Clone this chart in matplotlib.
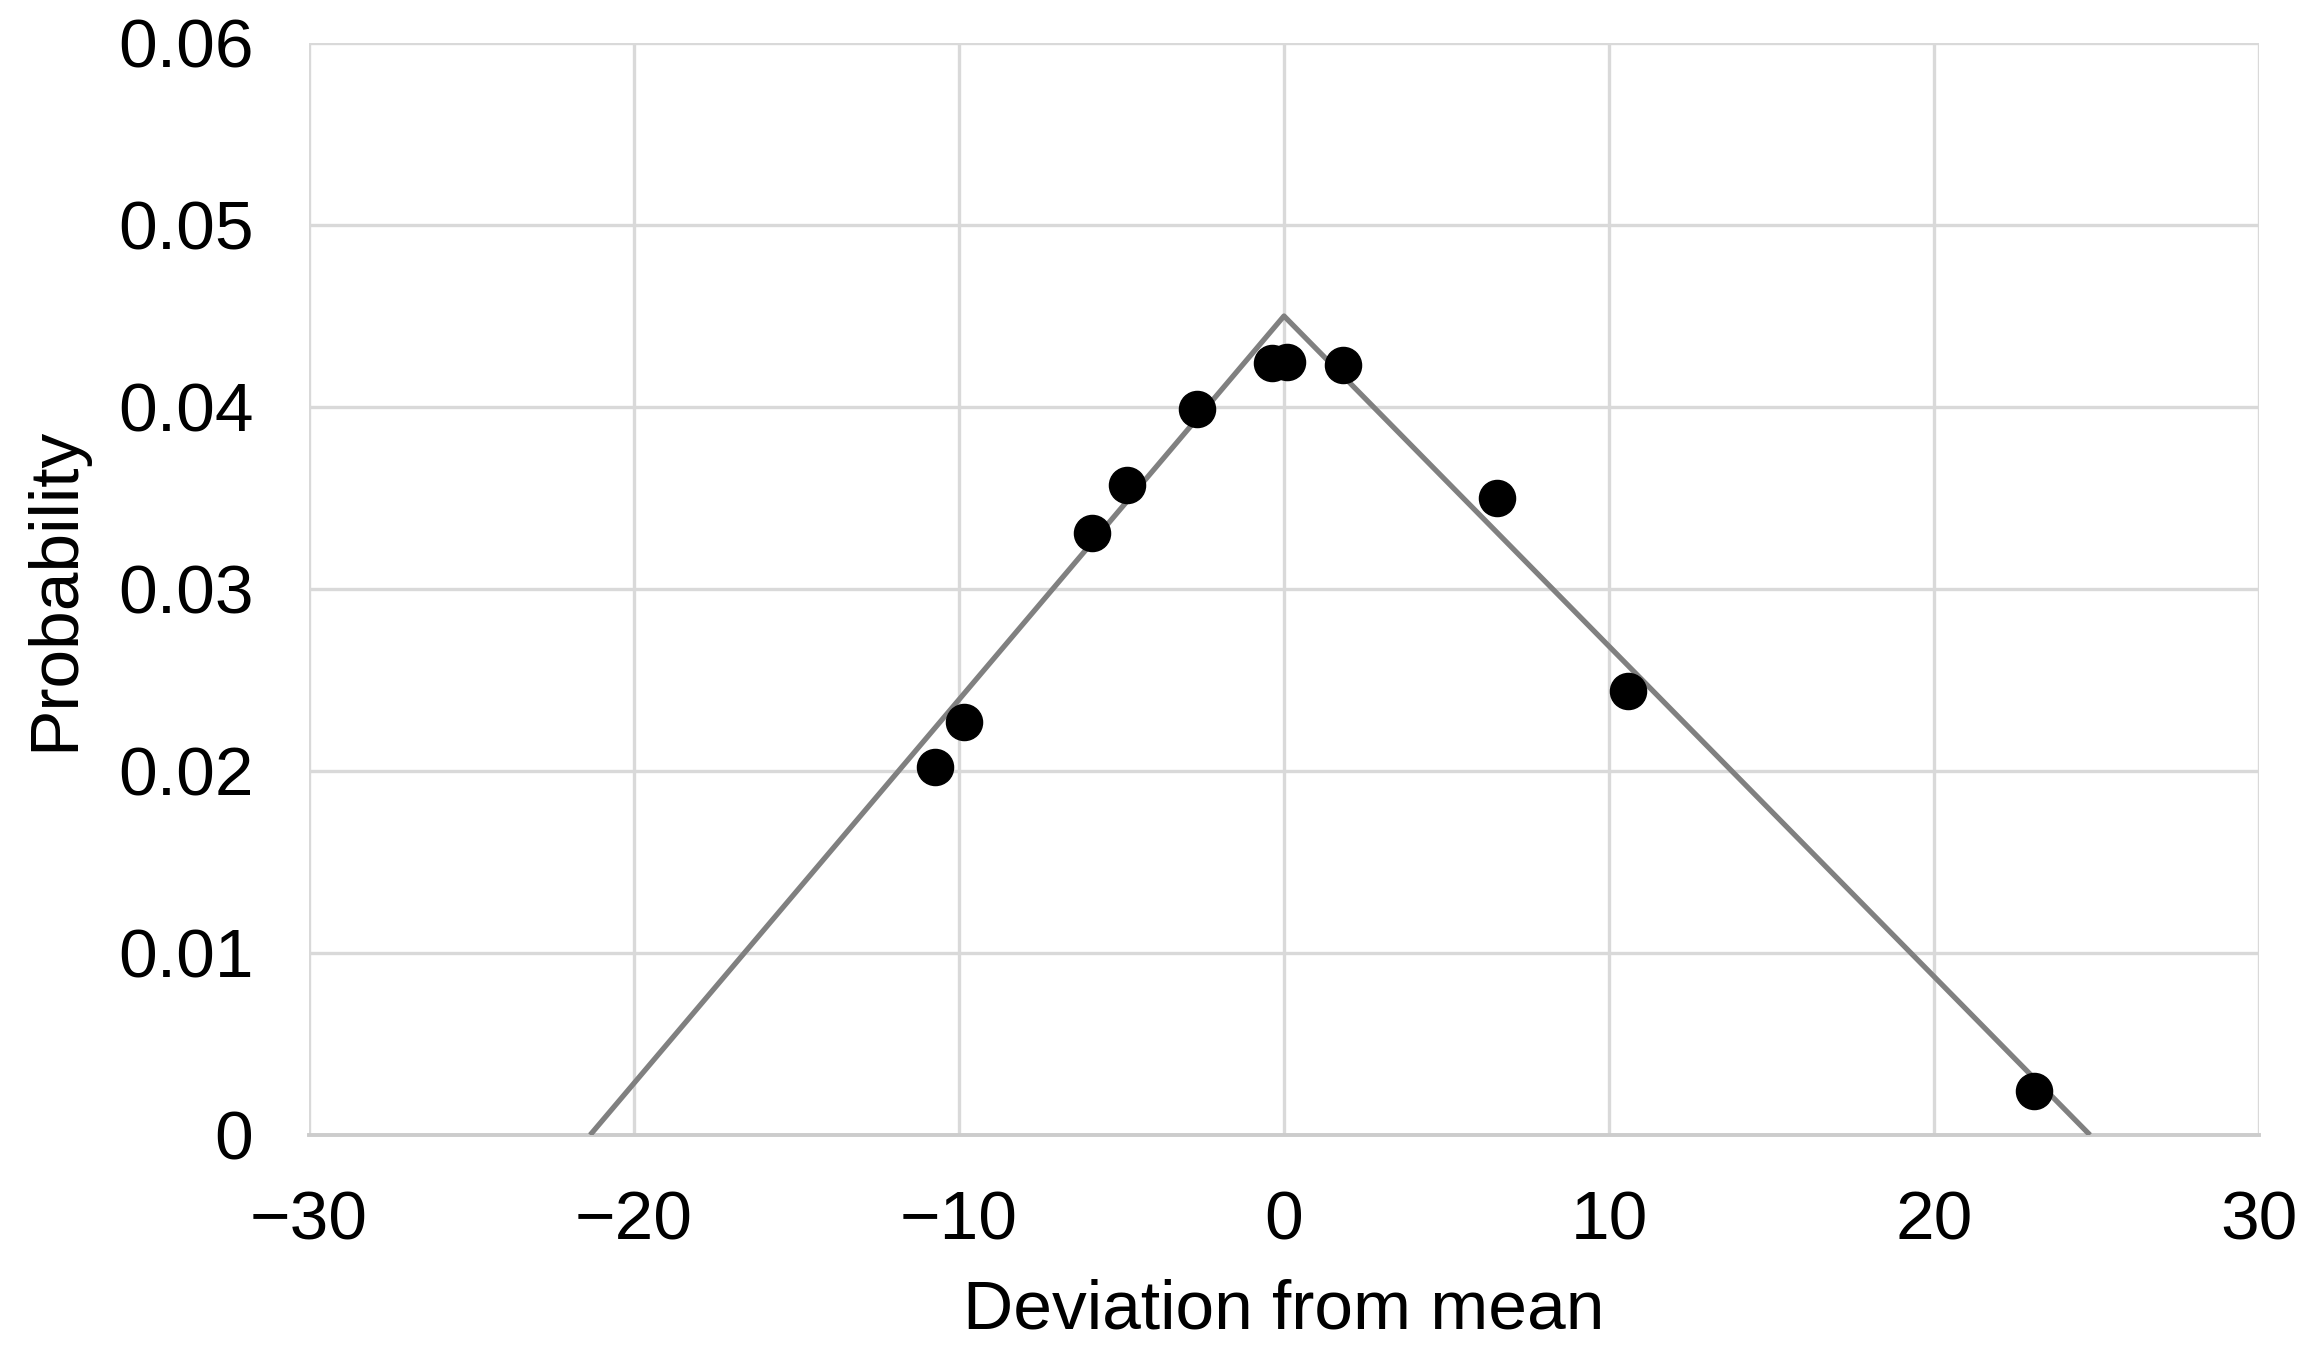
import matplotlib
matplotlib.use("Agg")
from matplotlib import pyplot as plt

# observed deviations and probabilities
devX = [-10.75, -9.85, -5.92, -4.83, -2.68, -0.37, 0.09, 1.82, 6.55, 10.57, 23.08]
probY = [0.0202, 0.0227, 0.0331, 0.0357, 0.0399, 0.0424, 0.0425, 0.0423, 0.0350, 0.0244, 0.0024]

# triangular fit line
lineX = [-21.35, 0.0, 24.8]
lineY = [0.0, 0.0450, 0.0]

xTicks = [-30, -20, -10, 0, 10, 20, 30]
yTicks = [0, 0.01, 0.02, 0.03, 0.04, 0.05, 0.06]
yLabels = ["0", "0.01", "0.02", "0.03", "0.04", "0.05", "0.06"]

plt.rcParams['font.family'] = ['Liberation Sans', 'DejaVu Sans']

fig = plt.figure(figsize=(23.02, 13.53), dpi=100)
ax = fig.add_axes([309/2302, 1 - 1135/1353, (2259-309)/2302, (1135-43)/1353])

ax.plot(lineX, lineY, color='#808080', lw=3.8, zorder=3, solid_capstyle='butt')
ax.plot(devX, probY, 'o', color='black', markersize=26, zorder=4)

ax.set_xlim(-30, 30)
ax.set_ylim(0, 0.06)
ax.set_xticks(xTicks)
ax.set_yticks(yTicks)
ax.set_yticklabels(yLabels)
ax.grid(True, color='#d9d9d9', lw=2.4, zorder=0)
ax.set_axisbelow(True)

for s in ['top', 'right', 'left']:
    ax.spines[s].set_visible(False)
ax.spines['bottom'].set_color('#cccccc')
ax.spines['bottom'].set_linewidth(2.8)

ax.tick_params(axis='both', length=0, labelsize=50, colors='black')
ax.tick_params(axis='x', pad=39)
ax.tick_params(axis='y', pad=40)

ax.set_xlabel("Deviation from mean", fontsize=50, labelpad=18)
ax.set_ylabel("Probability", fontsize=50, labelpad=22)

plt.savefig('out.png', dpi=100)
